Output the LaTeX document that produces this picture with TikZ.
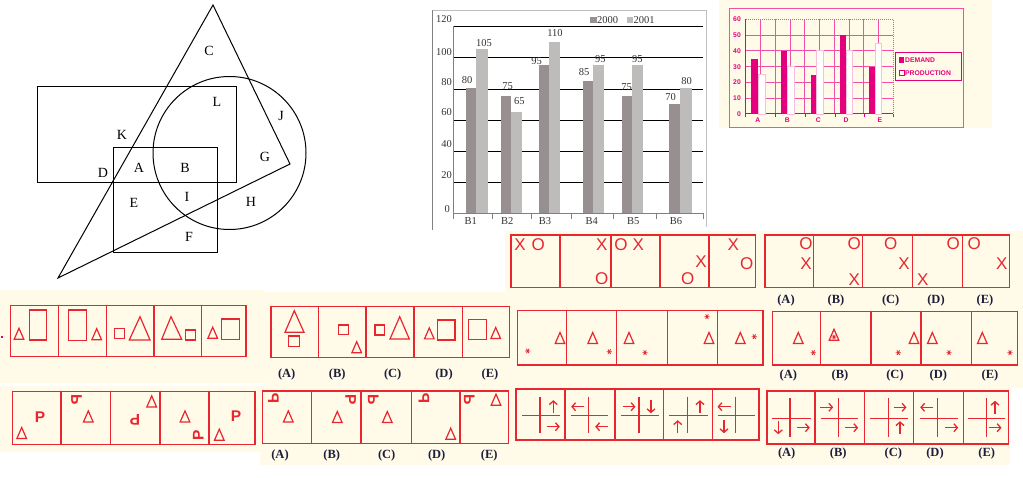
\documentclass[tikz,border=0pt]{standalone}
\usepackage{fontspec}
\usepackage{graphicx}
\setmainfont{Liberation Serif}
\newfontfamily\sansf{Liberation Sans}
\usetikzlibrary{arrows.meta}
\definecolor{cream}{RGB}{255,251,232}
\definecolor{pred}{RGB}{232,38,48}
\definecolor{navy}{RGB}{30,30,60}
\definecolor{mag}{RGB}{228,0,124}
\definecolor{gpink}{RGB}{240,80,165}
\definecolor{lpink}{RGB}{248,190,220}
\definecolor{darkbar}{RGB}{152,144,144}
\definecolor{lightbar}{RGB}{190,187,187}
\definecolor{framegray}{RGB}{128,128,128}
\tikzset{
  venn/.style={draw=black, line width=1pt},
  vlab/.style={font=\fontsize{14}{14}\selectfont, inner sep=0},
  pline/.style={draw=pred, line width=1.2pt},
  glyph/.style={text=pred, font=\sansf\fontsize{17}{17}\selectfont, inner sep=0},
  pglyph/.style={text=pred, font=\sansf\bfseries\fontsize{15.5}{15.5}\selectfont, inner sep=0},
  anslab/.style={text=navy, font=\bfseries\fontsize{12.5}{12.5}\selectfont, inner sep=0},
  barlab/.style={text=black!80, font=\fontsize{10.5}{10.5}\selectfont, inner sep=0},
  dlab/.style={text=mag, font=\sansf\bfseries\fontsize{6.8}{6.8}\selectfont, inner sep=0},
  arr/.style={draw=pred, line width=1.3pt, -{Straight Barb[length=3.5pt,width=8pt]}},
  dtri/.pic={\draw[pline] (-4.8,5.2) -- (4.8,5.2) -- (0,-5.8) -- cycle;},
  astpic/.pic={\draw[pred,line width=0.8pt] (-2.6,0)--(2.6,0) (-1.3,-2.3)--(1.3,2.3) (-1.3,2.3)--(1.3,-2.3);}
}
\newcommand\arrU[2]{\draw[arr] (#1,{#2+6.5}) -- (#1,{#2-6.5});}
\newcommand\arrD[2]{\draw[arr] (#1,{#2-6.5}) -- (#1,{#2+6.5});}
\newcommand\arrL[2]{\draw[arr] ({#1+6.5},#2) -- ({#1-6.5},#2);}
\newcommand\arrR[2]{\draw[arr] ({#1-6.5},#2) -- ({#1+6.5},#2);}
\newcommand\Pcw{\rotatebox{-90}{P}}
\newcommand\Pccw{\rotatebox{90}{P}}
\newcommand\Pcwm{\reflectbox{\rotatebox{-90}{P}}}
\newcommand\Pccwm{\reflectbox{\rotatebox{90}{P}}}
\begin{document}
\begin{tikzpicture}[x=1pt,y=-1pt]
\useasboundingbox (0,0) rectangle (1023,478);
\fill[white] (0,0) rectangle (1023,478);
% cream backgrounds
\fill[cream] (719,0) rectangle (992,128);
\fill[cream] (505,231) rectangle (1023,310);
\fill[cream] (505,305) rectangle (1023,388);
\fill[cream] (0,290) rectangle (265,383);
\fill[cream] (265,292) rectangle (512,388);
\fill[cream] (0,386) rectangle (265,452);
\fill[cream] (260,388) rectangle (512,465);
\fill[cream] (505,388) rectangle (1010,465);

% ---------------- Venn diagram ----------------
\draw[venn] (213,5) -- (290,164) -- (58,278) -- cycle;
\draw[venn] (37,87) rectangle (236,183);
\draw[venn] (113,148) rectangle (217,253);
\draw[venn] (229.5,153) circle [radius=76.5pt];
\node[vlab] (vC) at (209,51) {C};
\node[vlab] (vL) at (217,102) {L};
\node[vlab] (vJ) at (281,116) {J};
\node[vlab] (vK) at (122,135) {K};
\node[vlab] (vG) at (265,157) {G};
\node[vlab] (vD) at (103,173) {D};
\node[vlab] (vA) at (139,168) {A};
\node[vlab] (vB) at (185,168) {B};
\node[vlab] (vE) at (134,203) {E};
\node[vlab] (vI) at (187,197) {I};
\node[vlab] (vH) at (251,202) {H};
\node[vlab] (vF) at (189,237) {F};

% ---------------- Bar chart ----------------
\draw[framegray, line width=1pt] (432.7,230) -- (432.7,10);
\draw[black!25, line width=0.8pt] (432.7,10) -- (706.7,10) -- (706.7,227);
\foreach \yy in {26,57.3,89.3,120,151,182.3}
  \draw[black, line width=0.8pt] (453,\yy) -- (703,\yy);
\draw[framegray, line width=0.8pt] (453,26) -- (453,213.3) -- (703,213.3);
\foreach \xx in {453,492.7,531,571.7,613.3,656.7,703}
  \draw[framegray, line width=0.6pt] (\xx,213.3) -- (\xx,219);
\foreach \xa/\xb/\xc/\va/\vb in {465.7/476/488/80/105, 500.7/511/521.7/75/65, 539/549/560/95/110, 582.7/592.7/604.3/85/95, 621.7/631.7/642.7/75/95, 669/680/691.7/70/80}{
  \fill[darkbar] (\xa,213.3) rectangle (\xb,{213.3-\va*1.5617});
  \fill[lightbar] (\xb,213.3) rectangle (\xc,{213.3-\vb*1.5617});
}
\node[barlab, anchor=east] (y120) at (452,19.3) {120};
\node[barlab, anchor=east] (y100) at (452,51.7) {100};
\node[barlab, anchor=east] (y80) at (452,81.7) {80};
\node[barlab, anchor=east] (y60) at (452,112) {60};
\node[barlab, anchor=east] (y40) at (452,143.7) {40};
\node[barlab, anchor=east] (y20) at (452,175) {20};
\node[barlab, anchor=east] (y0) at (450,208.7) {0};
\node[barlab] (b1a) at (467,80) {80};
\node[barlab] (b1b) at (484,42.7) {105};
\node[barlab] (b2a) at (507.7,86) {75};
\node[barlab] (b2b) at (519.3,101) {65};
\node[barlab] (b3a) at (536.7,61) {95};
\node[barlab] (b3b) at (555,32.7) {110};
\node[barlab] (b4a) at (584,72) {85};
\node[barlab] (b4b) at (600.3,59.3) {95};
\node[barlab] (b5a) at (626.7,87.3) {75};
\node[barlab] (b5b) at (637.3,59.3) {95};
\node[barlab] (b6a) at (670.7,96.7) {70};
\node[barlab] (b6b) at (686.7,80.7) {80};
\node[barlab] (xB1) at (470.7,221) {B1};
\node[barlab] (xB2) at (507.3,221) {B2};
\node[barlab] (xB3) at (545,221) {B3};
\node[barlab] (xB4) at (591.7,221) {B4};
\node[barlab] (xB5) at (633.3,221) {B5};
\node[barlab] (xB6) at (676,221) {B6};
\fill[darkbar] (590,17) rectangle (596.5,23.5);
\node[barlab, anchor=west] (lg2000) at (597,20.3) {2000};
\fill[lightbar] (626.5,17) rectangle (633,23.5);
\node[barlab, anchor=west] (lg2001) at (633.5,20.3) {2001};

% ---------------- Demand / production chart ----------------
\draw[gpink, line width=1pt] (729,8.3) rectangle (963.3,127.7);
\foreach \k in {1,...,5}
  \draw[gpink, line width=0.8pt] (745.7,{114-\k*15.783}) -- (893.3,{114-\k*15.783});
\foreach \i in {1,...,9}
  \draw[gpink, line width=0.8pt] ({745.7+\i*14.76},19.3) -- ({745.7+\i*14.76},114);
\draw[gpink, line width=1pt, densely dotted] (745.7,19.3) -- (893.3,19.3) -- (893.3,114);
\draw[mag, line width=1pt] (745.7,19.3) -- (745.7,114) -- (893.3,114);
\foreach \xx in {745.7,775.3,805.3,835.3,864.3,893.3}
  \draw[mag, line width=0.8pt] (\xx,114) -- (\xx,117.5);
\foreach \xa/\xb/\xc/\va/\vb in {751/758.3/765/35/25, 780.7/787.3/794/40/30, 810.7/816.7/823.7/25/40, 840/846/852.3/50/40, 869/875/881.7/30/45}{
  \fill[mag] (\xa,114) rectangle (\xb,{114-\va*1.5783});
  \filldraw[fill=white, draw=lpink, line width=0.8pt] (\xb,114) rectangle (\xc,{114-\vb*1.5783});
}
\node[dlab, anchor=east] (d60) at (741,19.3) {60};
\node[dlab, anchor=east] (d50) at (741,35.1) {50};
\node[dlab, anchor=east] (d40) at (741,50.9) {40};
\node[dlab, anchor=east] (d30) at (741,66.7) {30};
\node[dlab, anchor=east] (d20) at (741,82.4) {20};
\node[dlab, anchor=east] (d10) at (741,98.2) {10};
\node[dlab, anchor=east] (d0) at (741,114) {0};
\node[dlab] (dA) at (757.7,120.5) {A};
\node[dlab] (dB) at (787.3,120.5) {B};
\node[dlab] (dC) at (818.3,120.5) {C};
\node[dlab] (dD) at (846,120.5) {D};
\node[dlab] (dE) at (880,120.5) {E};
\draw[mag, line width=0.9pt] (895,52.7) rectangle (961.7,80);
\fill[mag] (899,57.3) rectangle (904,62.7);
\node[dlab, anchor=west] (lgdem) at (905,60) {DEMAND};
\draw[mag, line width=0.6pt] (899,70) rectangle (904,75.4);
\node[dlab, anchor=west] (lgprod) at (905,72.7) {PRODUCTION};

% ---------------- Row 1 right: X / O ----------------
\draw[pline] (511,235) rectangle (755.7,287.3);
\foreach \xx in {560,611,660,709} \draw[pline] (\xx,235) -- (\xx,287.3);
\node[glyph] (p1x1) at (520,245) {X};
\node[glyph] (p1o1) at (538.3,245) {O};
\node[glyph] (p1x2) at (601.7,245) {X};
\node[glyph] (p1o2) at (601.7,278.3) {O};
\node[glyph] (p1o3) at (621,245) {O};
\node[glyph] (p1x3) at (638.3,245) {X};
\node[glyph] (p1x4) at (701,261.7) {X};
\node[glyph] (p1o4) at (687.7,278.3) {O};
\node[glyph] (p1x5) at (733.3,245) {X};
\node[glyph] (p1o5) at (746.7,263.3) {O};

\draw[pline] (765,235) rectangle (1009.3,287.3);
\foreach \xx in {813.3,862.7,912.7,962.7} \draw[pline] (\xx,235) -- (\xx,287.3);
\node[glyph] (a1oA) at (806,244) {O};
\node[glyph] (a1xA) at (806,263.3) {X};
\node[glyph] (a1oB) at (854.3,244) {O};
\node[glyph] (a1xB) at (854.3,280) {X};
\node[glyph] (a1oC) at (890.7,244) {O};
\node[glyph] (a1xC) at (904,263.3) {X};
\node[glyph] (a1oD) at (953.3,244) {O};
\node[glyph] (a1xD) at (922.7,280) {X};
\node[glyph] (a1oE) at (974.3,244) {O};
\node[glyph] (a1xE) at (1001.7,263.3) {X};
\node[anslab] (l1A) at (786,300) {(A)};
\node[anslab] (l1B) at (836,300) {(B)};
\node[anslab] (l1C) at (890.7,300) {(C)};
\node[anslab] (l1D) at (936,300) {(D)};
\node[anslab] (l1E) at (985,300) {(E)};

% ---------------- Row 2 left: triangles / squares ----------------
\fill[mag] (1,336) rectangle (3,338);
\draw[pline] (10.7,305.7) rectangle (246,356.7);
\foreach \xx in {58.3,106.7,154,201.7} \draw[pline] (\xx,305.7) -- (\xx,356.7);
\pic at (19,334) {dtri};
\draw[pline] (29.3,310) rectangle (46.7,340);
\draw[pline] (68.3,310) rectangle (86.7,340.7);
\pic at (96.7,334.5) {dtri};
\draw[pline] (114.3,328.3) rectangle (124.3,338.3);
\draw[pline] (129.3,340) -- (150,340) -- (140,316.7) -- cycle;
\draw[pline] (161.7,339.3) -- (181.7,339.3) -- (171,316.7) -- cycle;
\draw[pline] (185.7,330) rectangle (195.7,340);
\pic at (212.7,333) {dtri};
\draw[pline] (221.7,319) rectangle (239.3,339.3);

\draw[pline] (271,306.7) rectangle (509.3,357.7);
\foreach \xx in {318.3,366,414,462.7} \draw[pline] (\xx,306.7) -- (\xx,357.7);
\draw[pline] (285,332.3) -- (304,332.3) -- (294.3,310.7) -- cycle;
\draw[pline] (288.3,336) rectangle (299.3,346.7);
\draw[pline] (338.3,325) rectangle (348.3,334.3);
\pic at (356.7,347.5) {dtri};
\draw[pline] (375,325) rectangle (384.3,335);
\draw[pline] (390,339) -- (409.3,339) -- (399.7,316.7) -- cycle;
\pic at (429.3,333.7) {dtri};
\draw[pline] (437.3,320) rectangle (455,340);
\draw[pline] (468.3,319.3) rectangle (486.7,339.3);
\pic at (495.7,333.3) {dtri};
\node[anslab] (l2A) at (286.7,374.3) {(A)};
\node[anslab] (l2B) at (337.3,374.3) {(B)};
\node[anslab] (l2C) at (392.7,374.3) {(C)};
\node[anslab] (l2D) at (444,374.3) {(D)};
\node[anslab] (l2E) at (490,374.3) {(E)};

% ---------------- Row 2 right: triangle / star ----------------
\draw[pline] (517.7,310.7) rectangle (763,365);
\foreach \xx in {566.7,616.7,667.3,717.7} \draw[pline] (\xx,310.7) -- (\xx,365);
\pic at (560,338.3) {dtri};   \pic at (527.7,351) {astpic};
\pic at (592.7,338.3) {dtri}; \pic at (609.3,351.7) {astpic};
\pic at (629,338.3) {dtri};   \pic at (645,352.7) {astpic};
\pic at (709,338.3) {dtri};   \pic at (707,316.7) {astpic};
\pic at (740.3,338.3) {dtri}; \pic at (754.3,336.7) {astpic};

\draw[pline] (772.7,311.7) rectangle (1017.3,365);
\foreach \xx in {820.7,871,921,971.7} \draw[pline] (\xx,311.7) -- (\xx,365);
\pic at (798.3,338.3) {dtri}; \pic at (813.3,352.7) {astpic};
\pic at (834,335) {dtri};     \pic at (834,337) {astpic};
\pic at (914,338.3) {dtri};   \pic at (898.3,352.7) {astpic};
\pic at (932.3,338.3) {dtri}; \pic at (949,352.7) {astpic};
\pic at (982.3,338.3) {dtri}; \pic at (1010,352.7) {astpic};
\node[anslab] (l3A) at (788.3,375.7) {(A)};
\node[anslab] (l3B) at (840,375.7) {(B)};
\node[anslab] (l3C) at (895,375.7) {(C)};
\node[anslab] (l3D) at (938.3,375.7) {(D)};
\node[anslab] (l3E) at (990,375.7) {(E)};

% ---------------- Row 3 left: P / triangle ----------------
\draw[pline] (12.7,391.7) rectangle (255,444.3);
\foreach \xx in {61,110.7,160,209} \draw[pline] (\xx,391.7) -- (\xx,444.3);
\node[pglyph] (r3p1) at (40,416.7) {P};
\pic at (21.7,433.3) {dtri};
\node[pglyph] (r3p2) at (76.5,399.5) {\Pcwm};
\pic at (88.3,416.7) {dtri};
\node[pglyph, rotate=180] (r3p3) at (135,420) {P};
\pic at (151.7,401.7) {dtri};
\pic at (185,416.7) {dtri};
\node[pglyph] (r3p4) at (198.3,435) {\Pccw};
\node[pglyph] (r3p5) at (236,415.7) {P};
\pic at (219.3,435) {dtri};

\draw[pline] (262.7,391) rectangle (508.3,443.3);
\foreach \xx in {311.7,361,411.7,460} \draw[pline] (\xx,391) -- (\xx,443.3);
\node[pglyph] (r3aA) at (273.5,398.8) {\Pccwm};
\pic at (288.3,416.7) {dtri};
\node[pglyph] (r3aB) at (350.7,400) {\Pcw};
\pic at (337.3,417.3) {dtri};
\node[pglyph] (r3aC) at (373.3,400) {\Pcwm};
\pic at (387.3,417.3) {dtri};
\node[pglyph] (r3aD) at (424,398.8) {\Pccwm};
\pic at (450.7,434) {dtri};
\node[pglyph] (r3aE) at (469.3,400) {\Pcwm};
\pic at (496,400) {dtri};
\node[anslab] (l4A) at (280,455) {(A)};
\node[anslab] (l4B) at (331.7,455) {(B)};
\node[anslab] (l4C) at (386.7,455) {(C)};
\node[anslab] (l4D) at (436.7,455) {(D)};
\node[anslab] (l4E) at (489.3,455) {(E)};

% ---------------- Row 3 right: crosses and arrows ----------------
\draw[pline] (516,389) rectangle (759,440);
\foreach \xx in {565,615,663.3,712.3} \draw[pline] (\xx,389) -- (\xx,440);
\foreach \ha/\hb/\vx in {522.3/560/540, 570.7/608.3/588.3, 621/659/639, 669.3/708.3/687.7, 717.7/755/735.7}{
  \draw[pline] (\ha,415.7) -- (\hb,415.7);
  \draw[pline] (\vx,396.7) -- (\vx,433.3);
}
\arrU{553.3}{406.7} \arrR{553.3}{426.7}
\arrL{577.7}{406.7} \arrL{601.7}{426.7}
\arrR{629}{406.7}   \arrD{651}{406.7}
\arrU{700}{406.7}   \arrU{677.7}{426.7}
\arrL{724}{406.7}   \arrD{724}{426.7}

\draw[pline, line width=1.6pt] (766.7,391) rectangle (1008.3,444);
\foreach \xx in {815,864.3,913.7,963.3} \draw[pline] (\xx,391) -- (\xx,444);
\foreach \ha/\hb/\vx in {771.7/811/790, 820.7/858.3/838.3, 870/908.3/888.3, 920/958.3/937.7, 968.3/1005/986.7}{
  \draw[pline] (\ha,418.3) -- (\hb,418.3);
  \draw[pline] (\vx,398) -- (\vx,436.7);
}
\arrD{778.3}{427.7} \arrR{803.3}{427.7}
\arrR{826.7}{407.3} \arrR{851.7}{427.7}
\arrR{900}{407.3}   \arrU{900}{427.7}
\arrL{926.7}{407.3} \arrR{951.7}{427.7}
\arrU{995}{407.3}   \arrR{995}{427.7}
\node[anslab] (l5A) at (786.7,453.3) {(A)};
\node[anslab] (l5B) at (838.3,453.3) {(B)};
\node[anslab] (l5C) at (893.3,453.3) {(C)};
\node[anslab] (l5D) at (935,453.3) {(D)};
\node[anslab] (l5E) at (986.7,453.3) {(E)};
\end{tikzpicture}
\end{document}
